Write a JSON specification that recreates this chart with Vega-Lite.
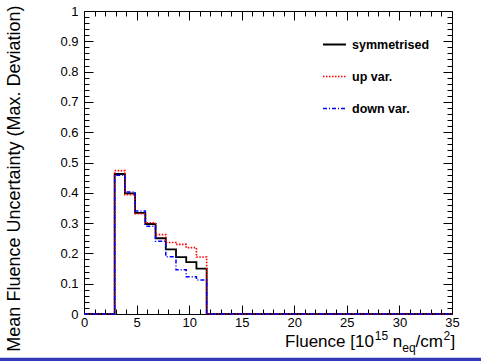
{
  "$schema": "https://vega.github.io/schema/vega-lite/v6.json",
  "width": 368,
  "height": 303,
  "autosize": "none",
  "padding": {"left": 84, "top": 11, "right": 29, "bottom": 47},
  "background": "white",
  "config": {
    "view": {"stroke": null},
    "font": "Liberation Sans",
    "text": {"font": "Liberation Sans", "color": "black", "align": "left", "baseline": "alphabetic"},
    "axis": {
      "domainColor": "black", "domainWidth": 1, "tickColor": "black", "tickWidth": 1,
      "labelColor": "black", "labelFont": "Liberation Sans", "labelFontSize": 13,
      "titleColor": "black", "titleFont": "Liberation Sans", "titleFontWeight": "normal",
      "grid": false, "labelOverlap": false, "labelFlush": false, "labelBound": false
    }
  },
  "datasets": {
    "hist": [
      {"series": "symmetrised", "x": 0, "v": 0},
      {"series": "symmetrised", "x": 2.917, "v": 0.462},
      {"series": "symmetrised", "x": 3.889, "v": 0.398},
      {"series": "symmetrised", "x": 4.861, "v": 0.334},
      {"series": "symmetrised", "x": 5.833, "v": 0.297},
      {"series": "symmetrised", "x": 6.806, "v": 0.250},
      {"series": "symmetrised", "x": 7.778, "v": 0.213},
      {"series": "symmetrised", "x": 8.75, "v": 0.188},
      {"series": "symmetrised", "x": 9.722, "v": 0.171},
      {"series": "symmetrised", "x": 10.694, "v": 0.150},
      {"series": "symmetrised", "x": 11.667, "v": 0},
      {"series": "symmetrised", "x": 35, "v": 0},
      {"series": "up var.", "x": 0, "v": 0},
      {"series": "up var.", "x": 2.917, "v": 0.473},
      {"series": "up var.", "x": 3.889, "v": 0.394},
      {"series": "up var.", "x": 4.861, "v": 0.331},
      {"series": "up var.", "x": 5.833, "v": 0.301},
      {"series": "up var.", "x": 6.806, "v": 0.262},
      {"series": "up var.", "x": 7.778, "v": 0.236},
      {"series": "up var.", "x": 8.75, "v": 0.230},
      {"series": "up var.", "x": 9.722, "v": 0.219},
      {"series": "up var.", "x": 10.694, "v": 0.188},
      {"series": "up var.", "x": 11.667, "v": 0},
      {"series": "up var.", "x": 35, "v": 0},
      {"series": "down var.", "x": 0, "v": 0},
      {"series": "down var.", "x": 2.917, "v": 0.458},
      {"series": "down var.", "x": 3.889, "v": 0.403},
      {"series": "down var.", "x": 4.861, "v": 0.340},
      {"series": "down var.", "x": 5.833, "v": 0.290},
      {"series": "down var.", "x": 6.806, "v": 0.240},
      {"series": "down var.", "x": 7.778, "v": 0.189},
      {"series": "down var.", "x": 8.75, "v": 0.146},
      {"series": "down var.", "x": 9.722, "v": 0.123},
      {"series": "down var.", "x": 10.694, "v": 0.112},
      {"series": "down var.", "x": 11.667, "v": 0},
      {"series": "down var.", "x": 35, "v": 0}
    ]
  },
  "layer": [
    {
      "data": {"name": "hist"},
      "mark": {"type": "line", "interpolate": "step-after"},
      "encoding": {
        "x": {
          "field": "x", "type": "quantitative",
          "scale": {"domain": [0, 35], "nice": false, "zero": false},
          "axis": {
            "orient": "bottom",
            "values": [0,1,2,3,4,5,6,7,8,9,10,11,12,13,14,15,16,17,18,19,20,21,22,23,24,25,26,27,28,29,30,31,32,33,34,35],
            "labelExpr": "datum.value % 5 === 0 ? datum.label : ''",
            "tickSize": {"condition": {"test": "datum.value % 5 === 0", "value": -9}, "value": -5},
            "labelPadding": 11,
            "title": null
          }
        },
        "y": {
          "field": "v", "type": "quantitative",
          "scale": {"domain": [0, 1], "nice": false},
          "axis": {
            "orient": "left",
            "values": [0,0.02,0.04,0.06,0.08,0.1,0.12,0.14,0.16,0.18,0.2,0.22,0.24,0.26,0.28,0.3,0.32,0.34,0.36,0.38,0.4,0.42,0.44,0.46,0.48,0.5,0.52,0.54,0.56,0.58,0.6,0.62,0.64,0.66,0.68,0.7,0.72,0.74,0.76,0.78,0.8,0.82,0.84,0.86,0.88,0.9,0.92,0.94,0.96,0.98,1],
            "labelExpr": "abs(datum.value*10 - round(datum.value*10)) < 1e-6 ? format(datum.value, '~g') : ''",
            "tickSize": {"condition": {"test": "abs(datum.value*10 - round(datum.value*10)) < 1e-6", "value": -9}, "value": -5},
            "labelPadding": 15,
            "title": "Mean Fluence Uncertainty (Max. Deviation)",
            "titleFontSize": 18,
            "titleAngle": -90,
            "titleAlign": "right",
            "titleAnchor": "end",
            "titleBaseline": "alphabetic",
            "titleX": -65,
            "titleY": -6
          }
        },
        "color": {
          "field": "series", "type": "nominal",
          "scale": {"domain": ["symmetrised", "up var.", "down var."], "range": ["#000000", "#ff0000", "#0000ff"]},
          "legend": {
            "title": null, "orient": "none", "legendX": 238, "legendY": 21,
            "symbolType": "stroke", "symbolSize": 529, "symbolStrokeWidth": 1.5,
            "labelFont": "Liberation Sans", "labelFontSize": 12.5, "labelFontWeight": "bold", "labelColor": "black",
            "rowPadding": 13, "labelOffset": 5, "padding": 0
          }
        },
        "strokeDash": {
          "field": "series", "type": "nominal",
          "scale": {"domain": ["symmetrised", "up var.", "down var."], "range": [[1, 0], [1.5, 1.5], [4, 2, 1, 2]]},
          "legend": {
            "title": null, "orient": "none", "legendX": 238, "legendY": 21,
            "symbolType": "stroke", "symbolSize": 529, "symbolStrokeWidth": 1.5,
            "labelFont": "Liberation Sans", "labelFontSize": 12.5, "labelFontWeight": "bold", "labelColor": "black",
            "rowPadding": 13, "labelOffset": 5, "padding": 0
          }
        },
        "strokeWidth": {
          "field": "series", "type": "nominal",
          "scale": {"domain": ["symmetrised", "up var.", "down var."], "range": [1.8, 1.5, 1.5]},
          "legend": null
        }
      }
    },
    {
      "data": {"name": "hist"},
      "mark": {"type": "point", "opacity": 0},
      "encoding": {
        "x": {
          "field": "x", "type": "quantitative",
          "scale": {"domain": [0, 35], "nice": false, "zero": false},
          "axis": {
            "orient": "top", "title": null, "labels": false,
            "values": [0,1,2,3,4,5,6,7,8,9,10,11,12,13,14,15,16,17,18,19,20,21,22,23,24,25,26,27,28,29,30,31,32,33,34,35],
            "tickSize": {"condition": {"test": "datum.value % 5 === 0", "value": -9}, "value": -5}
          }
        },
        "y": {
          "field": "v", "type": "quantitative",
          "scale": {"domain": [0, 1], "nice": false},
          "axis": {
            "orient": "right", "title": null, "labels": false,
            "values": [0,0.02,0.04,0.06,0.08,0.1,0.12,0.14,0.16,0.18,0.2,0.22,0.24,0.26,0.28,0.3,0.32,0.34,0.36,0.38,0.4,0.42,0.44,0.46,0.48,0.5,0.52,0.54,0.56,0.58,0.6,0.62,0.64,0.66,0.68,0.7,0.72,0.74,0.76,0.78,0.8,0.82,0.84,0.86,0.88,0.9,0.92,0.94,0.96,0.98,1],
            "tickSize": {"condition": {"test": "abs(datum.value*10 - round(datum.value*10)) < 1e-6", "value": -9}, "value": -5}
          }
        }
      }
    },
    {
      "data": {"values": [{}]},
      "mark": {"type": "text", "fontSize": 17},
      "encoding": {
        "x": {"datum": 19.12, "type": "quantitative", "axis": null},
        "y": {"datum": -0.1089, "type": "quantitative", "axis": null},
        "text": {"value": "Fluence [10"}
      }
    },
    {
      "data": {"values": [{}]},
      "mark": {"type": "text", "fontSize": 12},
      "encoding": {
        "x": {"datum": 27.66, "type": "quantitative", "axis": null},
        "y": {"datum": -0.0858, "type": "quantitative", "axis": null},
        "text": {"value": "15"}
      }
    },
    {
      "data": {"values": [{}]},
      "mark": {"type": "text", "fontSize": 17},
      "encoding": {
        "x": {"datum": 29.37, "type": "quantitative", "axis": null},
        "y": {"datum": -0.1089, "type": "quantitative", "axis": null},
        "text": {"value": "n"}
      }
    },
    {
      "data": {"values": [{}]},
      "mark": {"type": "text", "fontSize": 12},
      "encoding": {
        "x": {"datum": 30.27, "type": "quantitative", "axis": null},
        "y": {"datum": -0.1238, "type": "quantitative", "axis": null},
        "text": {"value": "eq"}
      }
    },
    {
      "data": {"values": [{}]},
      "mark": {"type": "text", "fontSize": 17},
      "encoding": {
        "x": {"datum": 31.54, "type": "quantitative", "axis": null},
        "y": {"datum": -0.1089, "type": "quantitative", "axis": null},
        "text": {"value": "/cm"}
      }
    },
    {
      "data": {"values": [{}]},
      "mark": {"type": "text", "fontSize": 12},
      "encoding": {
        "x": {"datum": 34.19, "type": "quantitative", "axis": null},
        "y": {"datum": -0.0858, "type": "quantitative", "axis": null},
        "text": {"value": "2"}
      }
    },
    {
      "data": {"values": [{}]},
      "mark": {"type": "text", "fontSize": 17},
      "encoding": {
        "x": {"datum": 34.86, "type": "quantitative", "axis": null},
        "y": {"datum": -0.1089, "type": "quantitative", "axis": null},
        "text": {"value": "]"}
      }
    },
    {
      "data": {"values": [{}]},
      "mark": {"type": "rule", "color": "#3238b8", "strokeWidth": 5},
      "encoding": {
        "x": {"datum": -8.1, "type": "quantitative", "axis": null},
        "x2": {"datum": 37.9},
        "y": {"datum": -0.153, "type": "quantitative", "axis": null}
      }
    }
  ],
  "resolve": {"axis": {"x": "independent", "y": "independent"}}
}
